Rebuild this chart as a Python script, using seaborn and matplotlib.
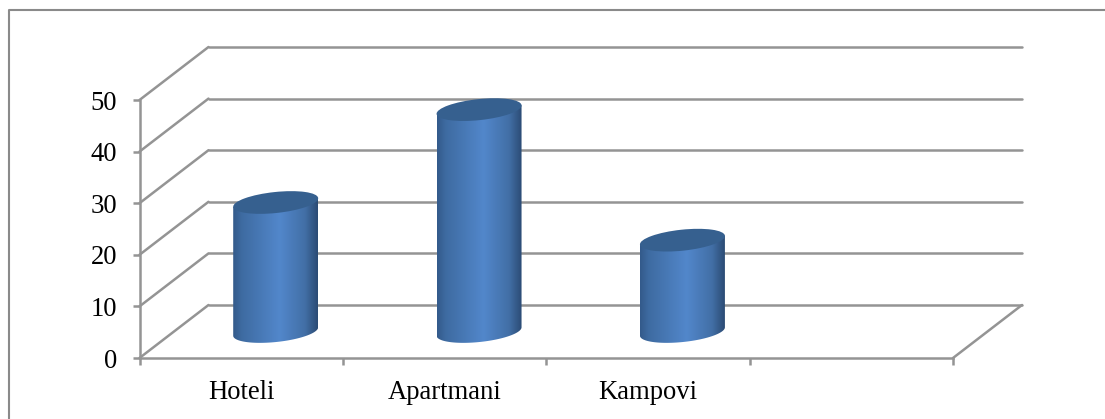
# 3D style cylinder column chart of accommodation types

import numpy as np
import pandas as pd
import matplotlib
matplotlib.use("Agg")
import matplotlib.pyplot as plt
from matplotlib.colors import LinearSegmentedColormap
from matplotlib.lines import Line2D
from matplotlib.patches import Ellipse
from matplotlib.path import Path
from matplotlib.ticker import FixedLocator
from matplotlib.transforms import IdentityTransform
import seaborn as sns

categories = ["Hoteli", "Apartmani", "Kampovi"]
slots = categories + [""]
values = [25, 43, 17.7]
y_ticks = [0, 10, 20, 30, 40, 50]

W, H = 1105, 419
DEPTH = (69, 53)
GREY = "#949494"
LW = 1.8
TILT = np.deg2rad(6)

sns.set_theme(style="white")
plt.rcParams["font.family"] = ["Liberation Serif", "DejaVu Serif"]

df = pd.DataFrame({"kind": categories, "value": values})

fig = plt.figure(figsize=(W / 100, H / 100), dpi=100, facecolor="white")
ax = fig.add_axes([139.5 / W, (H - 358) / H, (953 - 139.5) / W, 258 / H])
sns.barplot(data=df, x="kind", y="value", order=slots, width=0.42, errorbar=None, ax=ax)
ax.set_xlim(-0.5, 3.5)
ax.set_ylim(0, 50)
ax.set_xlabel("")
ax.set_ylabel("")
ax.patch.set_alpha(0)

# Axes and ticks
sns.despine(ax=ax, top=True, right=True)
for side in ["left", "bottom"]:
    ax.spines[side].set_color(GREY)
    ax.spines[side].set_linewidth(LW)
ax.set_yticks(y_ticks)
ax.set_xticks(range(4))
ax.set_xticklabels(slots)
ax.xaxis.set_minor_locator(FixedLocator([-0.5, 0.5, 1.5, 2.5, 3.5]))
ax.tick_params(axis="x", which="major", length=0, pad=16, labelsize=19.2, labelcolor="black")
ax.tick_params(axis="x", which="minor", bottom=True, length=5, width=LW, color=GREY)
ax.tick_params(axis="y", which="major", left=True, length=5, width=LW, color=GREY, pad=11,
               labelsize=19.2, labelcolor="black")


def to_px(x, y):
    return ax.transData.transform((x, y))


def px_line(p, q):
    ax.add_line(Line2D([p[0], q[0]], [p[1], q[1]], transform=IdentityTransform(), color=GREY,
                       lw=LW, clip_on=False, zorder=1, solid_capstyle="round"))


# Side wall, back wall and floor
for v in y_ticks:
    front = to_px(-0.5, v)
    back = front + DEPTH
    px_line(front, back)
    px_line(back, to_px(3.5, v) + DEPTH)
px_line(to_px(3.5, 0), to_px(3.5, 0) + DEPTH)

# Cylinders, placed from the bars seaborn drew
shade = LinearSegmentedColormap.from_list(
    "cyl", [(0, "#335a8a"), (0.1, "#3e6ba1"), (0.55, "#5287cb"), (0.85, "#426fa6"), (1, "#2b4b74")])
gradient = np.linspace(0, 1, 256)[None, :]
for bar in list(ax.patches):
    bar.set_visible(False)
    if bar.get_height() == 0 or np.isnan(bar.get_height()):
        continue
    left = to_px(bar.get_x(), 0) + (DEPTH[0] / 2, DEPTH[1] / 2)
    right = to_px(bar.get_x() + bar.get_width(), 0) + (DEPTH[0] / 2, DEPTH[1] / 2)
    top = to_px(bar.get_x(), bar.get_height())[1] + DEPTH[1] / 2
    a = (right[0] - left[0]) / 2
    b = 10.5
    cx, cy = (left[0] + right[0]) / 2, left[1]

    # lower half of the tilted base ellipse closes the body
    t = np.linspace(np.pi, 2 * np.pi, 60)
    ex = cx + a * np.cos(t) * np.cos(TILT) - b * np.sin(t) * np.sin(TILT)
    ey = cy + a * np.cos(t) * np.sin(TILT) + b * np.sin(t) * np.cos(TILT)
    dy_top = top - cy
    verts = [(ex[0], ey[0] + dy_top)] + list(zip(ex, ey)) + [(ex[-1], ey[-1] + dy_top)]
    clip = Path(verts + [verts[0]], closed=True)

    im = ax.imshow(gradient, cmap=shade, aspect="auto", zorder=3, interpolation="bilinear",
                   extent=(ex.min(), ex.max(), cy - 20, top + 10))
    im.set_transform(IdentityTransform())
    im.set_clip_path(clip, IdentityTransform())

    ax.add_patch(Ellipse((cx, top), 2 * a, 2 * b, angle=np.rad2deg(TILT), transform=IdentityTransform(),
                         facecolor="#36608f", edgecolor="none", zorder=4, clip_on=False))

ax.set_xlim(-0.5, 3.5)
ax.set_ylim(0, 50)

# Outer frame, open to the right and bottom
fig.add_artist(Line2D([8.5 / W, 8.5 / W, 1], [0, 1 - 10.5 / H, 1 - 10.5 / H], color="#8a8a8a", lw=1.5))

fig.savefig("out.png", dpi=100)
